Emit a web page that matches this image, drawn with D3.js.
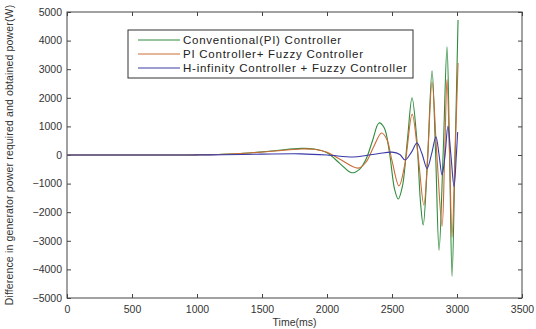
<!DOCTYPE html>
<html>
<head>
<meta charset="utf-8">
<script src="https://cdn.jsdelivr.net/npm/d3@7"></script>
<style>
  body { margin: 0; background: #fff; }
  text { font-family: "Liberation Sans", Arial, sans-serif; }
</style>
</head>
<body>
<script>
const width = 536;
const height = 329;

// values (ms, W)
const conventional = [
  [0, 0], [900, 0], [1000, 5], [1200, 25], [1400, 70], [1600, 150], [1800, 230], [1900, 210],
  [2000, 80], [2100, -300], [2190, -620], [2250, -500], [2300, -150], [2350, 500],
  [2400, 1120], [2440, 950], [2480, 100], [2520, -1200], [2548, -1540], [2580, -1100],
  [2620, 600], [2654, 2000], [2690, 600], [2720, -1700], [2740, -2450], [2770, -500],
  [2808, 2940], [2835, 100], [2862, -3330], [2893, 0], [2923, 3780], [2943, 0],
  [2962, -4240], [2985, 0], [3008, 4720]
];
const piFuzzy = [
  [0, 0], [900, 0], [1000, 5], [1200, 25], [1400, 70], [1600, 140], [1800, 210], [1900, 200],
  [2000, 100], [2100, -150], [2240, -460], [2300, -250], [2360, 300], [2420, 770],
  [2460, 550], [2500, -200], [2554, -1080], [2600, -300], [2655, 1430], [2700, 0],
  [2745, -1750], [2775, 0], [2808, 2550], [2845, 0], [2885, -2500], [2905, 0],
  [2923, 2650], [2943, 0], [2962, -2880], [2985, 0], [3008, 3220]
];
const hinfFuzzy = [
  [0, 0], [900, 0], [1200, 10], [1500, 30], [1800, 40], [2000, 0], [2200, -70],
  [2300, -20], [2400, 50], [2500, 100], [2560, 20], [2600, -175], [2650, 100],
  [2692, 420], [2730, 50], [2770, -470], [2805, 50], [2838, 640], [2862, 0],
  [2885, -700], [2908, 0], [2930, 1000], [2953, 0], [2977, -1100], [2995, 0], [3005, 800]
];
const seriesNames = ["Conventional(PI) Controller", "PI Controller+ Fuzzy Controller", "H-infinity Controller + Fuzzy Controller"];
const seriesColors = ["#2e8b3c", "#cc6a35", "#3a3aa8"];
const xTicks = [0, 500, 1000, 1500, 2000, 2500, 3000, 3500];
const yTicks = [-5000, -4000, -3000, -2000, -1000, 0, 1000, 2000, 3000, 4000, 5000];

const margin = { left: 67, right: 14, top: 12, bottom: 31 };

const svg = d3.select('body').append('svg').attr('width', width).attr('height', height);

const x = d3.scaleLinear().domain([0, 3500]).range([margin.left, width - margin.right]);
const y = d3.scaleLinear().domain([-5000, 5000]).range([height - margin.bottom, margin.top]);

const axisColor = "#444";

// frame
svg.append('rect')
  .attr('x', x(0)).attr('y', y(5000))
  .attr('width', x(3500) - x(0)).attr('height', y(-5000) - y(5000))
  .attr('fill', 'none').attr('stroke', axisColor).attr('stroke-width', 1);

const styleAxis = g => {
  g.select('.domain').remove();
  g.selectAll('line').attr('stroke', axisColor);
  g.selectAll('text').attr('fill', '#333').style('font-size', '10.5px');
};

svg.append('g').attr('transform', `translate(0,${y(-5000)})`)
  .call(d3.axisBottom(x).tickValues(xTicks).tickFormat(d3.format('d')).tickSizeInner(-4).tickSizeOuter(0).tickPadding(8))
  .call(styleAxis);
svg.append('g').attr('transform', `translate(0,${y(5000)})`)
  .call(d3.axisTop(x).tickValues(xTicks).tickFormat('').tickSizeInner(-4).tickSizeOuter(0))
  .call(styleAxis);
svg.append('g').attr('transform', `translate(${x(0)},0)`)
  .call(d3.axisLeft(y).tickValues(yTicks).tickFormat(d3.format('d')).tickSizeInner(-4).tickSizeOuter(0).tickPadding(5))
  .call(styleAxis);
svg.append('g').attr('transform', `translate(${x(3500)},0)`)
  .call(d3.axisRight(y).tickValues(yTicks).tickFormat('').tickSizeInner(-4).tickSizeOuter(0))
  .call(styleAxis);

// lines
const line = d3.line().x(d => x(d[0])).y(d => y(d[1])).curve(d3.curveCatmullRom.alpha(0.5));
[conventional, piFuzzy, hinfFuzzy].forEach((data, i) => {
  svg.append('path').datum(data)
    .attr('d', line)
    .attr('fill', 'none')
    .attr('stroke', seriesColors[i])
    .attr('stroke-width', 1.1);
});

// axis titles
svg.append('text')
  .attr('x', (x(0) + x(3500)) / 2).attr('y', 326)
  .attr('text-anchor', 'middle').attr('fill', '#333').style('font-size', '10.5px')
  .text('Time(ms)');
svg.append('text')
  .attr('transform', `translate(13,${(y(5000) + y(-5000)) / 2}) rotate(-90)`)
  .attr('text-anchor', 'middle').attr('fill', '#333').style('font-size', '10.5px')
  .style('letter-spacing', '0.15px')
  .text('Difference in generator power required and obtained power(W)');

// legend
const legend = svg.append('g').attr('transform', 'translate(128,30)');
legend.append('rect').attr('width', 285).attr('height', 48)
  .attr('fill', '#fff').attr('stroke', '#333').attr('stroke-width', 1);
seriesNames.forEach((name, i) => {
  const cy = 10 + i * 14;
  legend.append('line').attr('x1', 10).attr('x2', 52).attr('y1', cy).attr('y2', cy)
    .attr('stroke', seriesColors[i]).attr('stroke-width', 1);
  legend.append('text').attr('x', 55).attr('y', cy + 4)
    .attr('fill', '#222').style('font-size', '11.5px').style('letter-spacing', '0.75px')
    .text(name);
});
</script>
</body>
</html>
